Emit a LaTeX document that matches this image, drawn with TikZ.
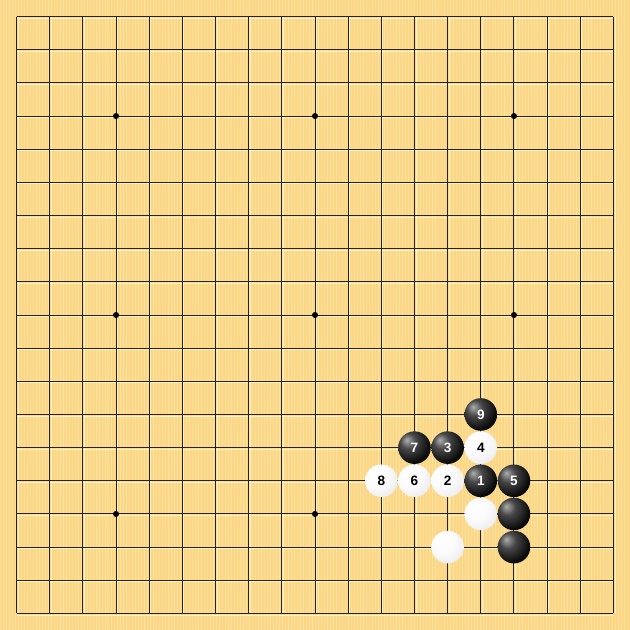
\documentclass[tikz,border=0pt]{standalone}
\usepackage{fontspec}
\setmainfont{Liberation Sans}
\usepackage{xcolor}
\definecolor{boardwood}{RGB}{250,214,134}
\definecolor{woodlight}{RGB}{255,232,165}
\definecolor{gridink}{RGB}{40,34,18}
\definecolor{gridshine}{RGB}{255,244,200}
\pgfdeclareradialshading{blackball}{\pgfpoint{-12bp}{12bp}}{color(0bp)=(black!32); color(12bp)=(black!72); color(30bp)=(black!96); color(46bp)=(black); color(52bp)=(black!85); color(70bp)=(black!85)}
\pgfdeclareradialshading{whiteball}{\pgfpoint{-12bp}{12bp}}{color(0bp)=(white); color(20bp)=(white!98!black); color(40bp)=(black!10); color(50bp)=(black!36); color(70bp)=(black!40)}
\tikzset{
    gridline/.style={draw=gridink, line width=0.5pt},
    gridshine/.style={draw=gridshine, line width=0.4pt},
    stone/.style={circle, minimum size=0.59cm, inner sep=0pt,
        font=\fontsize{7}{8}\selectfont\bfseries},
    blackstone/.style={stone, shading=blackball, text=white},
    whitestone/.style={stone, shading=whiteball, text=black},
    hoshi/.style={circle, fill=black, minimum size=0.11cm, inner sep=0pt}
}

\begin{document}
\begin{tikzpicture}[x=0.6cm, y=-0.6cm]
    \useasboundingbox (-0.5,-0.5) rectangle (18.5,18.5);
    % Wooden board
    \fill[boardwood] (-0.5,-0.5) rectangle (18.5,18.5);
    \pgfmathsetseed{7}
    \foreach \k in {0,...,209} {
        \pgfmathsetmacro{\xx}{-0.5+\k*0.0905+0.02*rnd}
        \pgfmathsetmacro{\op}{0.35+0.5*rnd}
        \draw[woodlight, opacity=\op, line width=0.55pt] (\xx,-0.5) -- (\xx,18.5);
    }
    % Grid
    \foreach \i in {0,...,18} {
        \draw[gridshine] (\i+0.045,0) -- (\i+0.045,18);
        \draw[gridshine] (0,\i+0.045) -- (18,\i+0.045);
    }
    \foreach \i in {0,...,18} {
        \draw[gridline] (\i,0) -- (\i,18);
        \draw[gridline] (0,\i) -- (18,\i);
    }
    % Star points
    \foreach \c in {3,9,15} {
        \foreach \r in {3,9,15} {
            \node[hoshi] (hoshi-\c-\r) at (\c,\r) {};
        }
    }
    % Stones
    \node[blackstone] (move1) at (14,14) {1};
    \node[whitestone] (move2) at (13,14) {2};
    \node[blackstone] (move3) at (13,13) {3};
    \node[whitestone] (move4) at (14,13) {4};
    \node[blackstone] (move5) at (15,14) {5};
    \node[whitestone] (move6) at (12,14) {6};
    \node[blackstone] (move7) at (12,13) {7};
    \node[whitestone] (move8) at (11,14) {8};
    \node[blackstone] (move9) at (14,12) {9};
    \node[whitestone] (w-a) at (14,15) {};
    \node[blackstone] (b-a) at (15,15) {};
    \node[whitestone] (w-b) at (13,16) {};
    \node[blackstone] (b-b) at (15,16) {};
\end{tikzpicture}
\end{document}
